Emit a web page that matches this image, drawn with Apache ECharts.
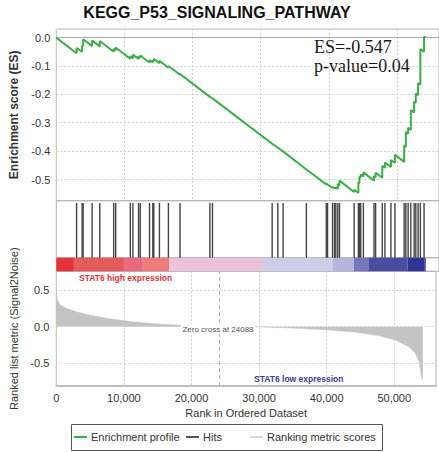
<!DOCTYPE html>
<html>
<head>
<meta charset="utf-8">
<script src="https://cdn.jsdelivr.net/npm/echarts@6/dist/echarts.min.js"></script>
<style>
  html, body { margin: 0; padding: 0; background: #fff; }
  #chart { width: 439px; height: 452px; }
</style>
</head>
<body>
<div id="chart"></div>
<script>
// ranks of the gene set members (hits)
const hitRanks = [2978, 3796, 3942, 5256, 6380, 8424, 8716, 10862, 11242, 12074, 12322, 13680, 14162,
  14308, 15140, 16454, 18162, 22542, 22922, 31682, 32514, 33288, 36704, 39624, 39814, 40544, 40836,
  41026, 41318, 41566, 43712, 44340, 44486, 44676, 45070, 46632, 46866, 47844, 48238, 49114, 49698,
  51056, 51304, 51640, 52034, 52516, 52764, 53100, 53436, 53976]

// running enrichment score
const esRank = [0, 2978, 2978, 3796, 3796, 3942, 3942, 5256, 5256, 6380, 6380, 8424, 8424, 8716, 8716,
  10862, 10862, 11242, 11242, 12074, 12074, 12322, 12322, 13680, 13680, 14162, 14162, 14308, 14308,
  15140, 15140, 16454, 16454, 18162, 18162, 22542, 22542, 22922, 22922, 31682, 31682, 32514, 32514,
  33288, 33288, 36704, 36704, 39624, 39624, 39814, 39814, 40544, 40544, 40836, 40836, 41026, 41026,
  41318, 41318, 41566, 41566, 43712, 43712, 44340, 44340, 44486, 44486, 44676, 44676, 45070, 45070,
  46632, 46632, 46866, 46866, 47844, 47844, 48238, 48238, 49114, 49114, 49698, 49698, 51056, 51056,
  51304, 51304, 51640, 51640, 52034, 52034, 52516, 52516, 52764, 52764, 53100, 53100, 53436, 53436,
  53976, 53976, 54220]
const esScore = [0, -0.055, -0.037, -0.050, -0.027, -0.030, -0.006, -0.030, -0.010, -0.031, -0.012,
  -0.050, -0.040, -0.045, -0.035, -0.075, -0.066, -0.073, -0.060, -0.075, -0.066, -0.071, -0.063,
  -0.088, -0.079, -0.088, -0.080, -0.083, -0.075, -0.090, -0.082, -0.106, -0.100, -0.131, -0.128,
  -0.209, -0.207, -0.214, -0.212, -0.374, -0.373, -0.388, -0.387, -0.401, -0.400, -0.465, -0.463,
  -0.517, -0.514, -0.518, -0.516, -0.530, -0.526, -0.532, -0.528, -0.532, -0.527, -0.533, -0.516,
  -0.521, -0.504, -0.544, -0.536, -0.547, -0.510, -0.513, -0.490, -0.493, -0.482, -0.489, -0.475,
  -0.504, -0.488, -0.492, -0.476, -0.494, -0.452, -0.459, -0.440, -0.456, -0.431, -0.442, -0.413,
  -0.438, -0.380, -0.385, -0.333, -0.339, -0.318, -0.325, -0.255, -0.264, -0.225, -0.230, -0.197,
  -0.203, -0.160, -0.166, -0.040, -0.050, 0.004, 0]

// ranked list metric (Signal2Noise)
const metricRank = [0, 60, 146, 540, 1520, 2980, 4920, 7360, 11240, 15140, 18540, 22440, 24088,
  30220, 35580, 40440, 44340, 47740, 50180, 52120, 53100, 53680, 53930, 54080, 54220]
const metricValue = [0.56, 0.45, 0.37, 0.30, 0.25, 0.204, 0.159, 0.114, 0.068, 0.037, 0.019, 0.008, 0,
  -0.003, -0.022, -0.045, -0.077, -0.122, -0.181, -0.272, -0.363, -0.477, -0.635, -0.70, -0.73]

// colour bar segment edges
const barEdges = [0, 2584, 9928, 12702, 16600, 30222, 40588, 43654, 45800, 51538, 54078, 54220]

const esTicks = [0, -0.1, -0.2, -0.3, -0.4, -0.5]
const metricTicks = [0.5, 0, -0.5]
const zeroCross = 24088

const BAR_COLORS = ['#e5333b', '#e55a5a', '#e96a7c', '#ee7c7c', '#edc1da', '#cdcde7',
  '#b9b4dc', '#7676bd', '#4c4ca0', '#2f3592', '#3b2a8e']
const FONT = 'Liberation Sans, Arial, sans-serif'
const X_MAX = 56170
const GREEN = '#3cae48'

const chart = echarts.init(document.getElementById('chart'), null, {renderer: 'svg'})

const dotted = {color: '#d0d0d0', type: [2, 2], width: 1}
const border = {show: true, borderColor: '#b4b4b4', borderWidth: 1}

function xAxisFor (i, extra) {
  return Object.assign({
    type: 'value', gridIndex: i, min: 0, max: X_MAX, interval: 10000,
    axisLine: {show: false}, axisTick: {show: false}, axisLabel: {show: false},
    splitLine: {show: false}
  }, extra)
}

chart.setOption({
  animation: false,
  grid: [
    Object.assign({left: 56.3, right: -2, top: 29, height: 171.7}, border),
    Object.assign({left: 56.3, right: -2, top: 200.7, height: 57}, border),
    Object.assign({left: 56.3, right: -2, top: 257.7, height: 13.6}, border),
    Object.assign({left: 56.3, right: -2, top: 271.3, height: 114.7}, border)
  ],
  xAxis: [
    xAxisFor(0, {splitLine: {show: true, lineStyle: dotted}}),
    xAxisFor(1),
    xAxisFor(2),
    xAxisFor(3, {
      splitLine: {show: true, lineStyle: dotted},
      axisLine: {show: true, onZero: false, lineStyle: {color: '#c0c0c0', width: 2}},
      axisLabel: {
        show: true, margin: 6, color: '#333', fontSize: 11, fontFamily: FONT,
        formatter: v => (v % 10000 === 0 ? v.toLocaleString('en-US') : '')
      },
      name: 'Rank in Ordered Dataset', nameLocation: 'middle', nameGap: 21,
      nameTextStyle: {color: '#333', fontSize: 11, fontFamily: FONT}
    })
  ],
  yAxis: [
    {
      type: 'value', gridIndex: 0, min: -0.5747, max: 0.0303,
      axisLine: {show: false}, splitLine: {show: false},
      axisTick: {show: false, customValues: esTicks},
      axisLabel: {customValues: esTicks, margin: 6, color: '#333', fontSize: 11, fontFamily: FONT,
        formatter: v => v.toFixed(1)},
      name: 'Enrichment score (ES)', nameLocation: 'middle', nameGap: 31,
      nameTextStyle: {color: '#333', fontSize: 12, fontWeight: 'bold', fontFamily: FONT}
    },
    {type: 'value', gridIndex: 1, min: 0, max: 1.04, show: false},
    {type: 'value', gridIndex: 2, min: 0, max: 1, show: false},
    {
      type: 'value', gridIndex: 3, min: -0.808, max: 0.755,
      axisLine: {show: false}, splitLine: {show: false},
      axisTick: {show: false, customValues: metricTicks},
      axisLabel: {customValues: metricTicks, margin: 7, color: '#333', fontSize: 11, fontFamily: FONT,
        formatter: v => v.toFixed(1)},
      name: 'Ranked list metric (Signal2Noise)', nameLocation: 'middle', nameGap: 28,
      nameTextStyle: {color: '#333', fontSize: 11, fontFamily: FONT}
    }
  ],
  legend: [
    {data: [{name: 'Enrichment profile', itemStyle: {color: GREEN}}], left: 74, top: 431.5},
    {data: [{name: 'Hits', itemStyle: {color: '#555'}}], left: 186, top: 431.5},
    {data: [{name: 'Ranking metric scores', itemStyle: {color: '#d8d8d8'}}], left: 250, top: 431.5}
  ].map(l => Object.assign(l, {
    icon: 'rect', itemWidth: 13, itemHeight: 2, padding: 0, selectedMode: false,
    textStyle: {color: '#333', fontSize: 11, fontFamily: FONT, padding: [0, 0, 0, -1]}
  })),
  graphic: [
    {type: 'rect', shape: {x: 71.5, y: 424.5, width: 311, height: 26}, style: {fill: 'none', stroke: '#555', lineWidth: 1}, z: 100},
    {type: 'text', x: 217, y: 12, z: 100, style: {text: 'KEGG_P53_SIGNALING_PATHWAY', align: 'center', verticalAlign: 'middle',
      font: 'bold 16px ' + FONT, fill: '#111'}},
    {type: 'text', x: 314, y: 47, z: 100, style: {text: 'ES=-0.547', verticalAlign: 'middle',
      font: '18px Liberation Serif, Times New Roman, serif', fill: '#1a1a1a'}},
    {type: 'text', x: 314, y: 65.5, z: 100, style: {text: 'p-value=0.04', verticalAlign: 'middle',
      font: '18px Liberation Serif, Times New Roman, serif', fill: '#1a1a1a'}},
    {type: 'text', x: 79, y: 277.5, z: 100, style: {text: 'STAT6 high expression', verticalAlign: 'middle',
      font: 'bold 8.5px ' + FONT, fill: '#e8303c'}},
    {type: 'text', x: 254, y: 379, z: 100, style: {text: 'STAT6 low expression', verticalAlign: 'middle',
      font: 'bold 8.5px ' + FONT, fill: '#3a3a9a'}},
    {type: 'text', x: 218, y: 329, z: 100, style: {text: 'Zero cross at ' + zeroCross, align: 'center', verticalAlign: 'middle',
      font: '8px ' + FONT, fill: '#555', backgroundColor: '#fff', padding: [1, 2]}}
  ],
  series: [
    {
      name: 'Enrichment profile', type: 'line', xAxisIndex: 0, yAxisIndex: 0,
      data: esRank.map((r, i) => [r, esScore[i]]),
      showSymbol: false, color: GREEN, lineStyle: {color: GREEN, width: 2}, z: 5,
      markLine: {
        silent: true, symbol: 'none', label: {show: false},
        data: esTicks.map(t => ({yAxis: t, lineStyle: t === 0 ? {color: '#a8a8a8', type: 'solid', width: 1} : dotted}))
      }
    },
    {
      name: 'Hits', type: 'bar', xAxisIndex: 1, yAxisIndex: 1,
      data: hitRanks.map(r => [r, 1]), barWidth: 1.4, itemStyle: {color: '#444'}
    },
    {
      type: 'custom', xAxisIndex: 2, yAxisIndex: 2,
      data: barEdges.slice(0, -1).map((e, i) => [e, barEdges[i + 1]]),
      encode: {x: [0, 1]},
      renderItem (params, api) {
        const p0 = api.coord([api.value(0), 0])
        const p1 = api.coord([api.value(1), 1])
        return {type: 'rect', shape: {x: p0[0], y: p1[1], width: p1[0] - p0[0], height: p0[1] - p1[1]},
          style: {fill: BAR_COLORS[params.dataIndex]}}
      }
    },
    {
      name: 'Ranking metric scores', type: 'line', xAxisIndex: 3, yAxisIndex: 3,
      data: metricRank.map((r, i) => [r, metricValue[i]]),
      showSymbol: false, lineStyle: {color: '#c4c4c4', width: 0.5}, color: '#d8d8d8',
      areaStyle: {color: '#c4c4c4', opacity: 1},
      markLine: {
        silent: true, symbol: 'none', label: {show: false},
        data: metricTicks.map(t => ({yAxis: t, lineStyle: dotted}))
          .concat([{xAxis: zeroCross, lineStyle: {color: '#b0b0b0', type: [4, 3], width: 1}}])
      }
    }
  ]
})
</script>
</body>
</html>
